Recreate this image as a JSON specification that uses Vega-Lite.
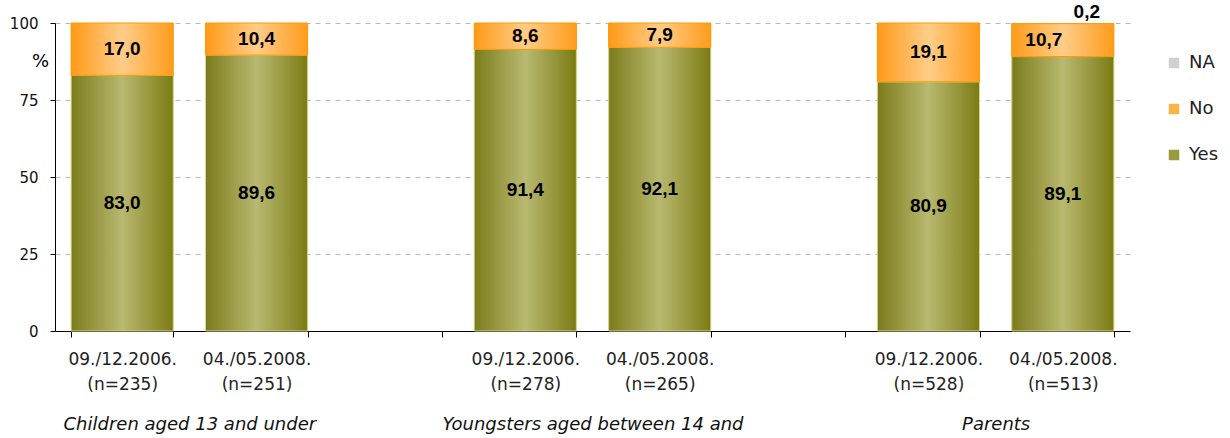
{
  "$schema": "https://vega.github.io/schema/vega-lite/v6.json",
  "width": 1075,
  "height": 308,
  "autosize": {"type": "none"},
  "padding": {"left": 55, "top": 23, "right": 100, "bottom": 107},
  "background": "white",
  "config": {
    "view": {"stroke": null},
    "font": "DejaVu Sans"
  },
  "datasets": {
    "bars": [
      {"slot": "09./12.2006.|(n=235)", "answer": "Yes", "value": 83.0, "label": "83,0"},
      {"slot": "09./12.2006.|(n=235)", "answer": "No", "value": 17.0, "label": "17,0"},
      {"slot": "04./05.2008.|(n=251)", "answer": "Yes", "value": 89.6, "label": "89,6"},
      {"slot": "04./05.2008.|(n=251)", "answer": "No", "value": 10.4, "label": "10,4"},
      {"slot": "09./12.2006.|(n=278)", "answer": "Yes", "value": 91.4, "label": "91,4"},
      {"slot": "09./12.2006.|(n=278)", "answer": "No", "value": 8.6, "label": "8,6"},
      {"slot": "04./05.2008.|(n=265)", "answer": "Yes", "value": 92.1, "label": "92,1"},
      {"slot": "04./05.2008.|(n=265)", "answer": "No", "value": 7.9, "label": "7,9"},
      {"slot": "09./12.2006.|(n=528)", "answer": "Yes", "value": 80.9, "label": "80,9"},
      {"slot": "09./12.2006.|(n=528)", "answer": "No", "value": 19.1, "label": "19,1"},
      {"slot": "04./05.2008.|(n=513)", "answer": "Yes", "value": 89.1, "label": "89,1"},
      {"slot": "04./05.2008.|(n=513)", "answer": "No", "value": 10.7, "label": "10,7"},
      {"slot": "04./05.2008.|(n=513)", "answer": "NA", "value": 0.2, "label": "0,2"}
    ],
    "groups": [
      {"group": "Children aged 13 and under"},
      {"group": "Youngsters aged between 14 and"},
      {"group": "Parents"}
    ]
  },
  "resolve": {"scale": {"x": "independent"}, "axis": {"x": "independent"}},
  "layer": [
    {
      "data": {"name": "bars"},
      "encoding": {
        "x": {
          "field": "slot",
          "type": "nominal",
          "sort": null,
          "scale": {
            "domain": ["09./12.2006.|(n=235)", "04./05.2008.|(n=251)", "gap1", "09./12.2006.|(n=278)", "04./05.2008.|(n=265)", "gap2", "09./12.2006.|(n=528)", "04./05.2008.|(n=513)"],
            "paddingInner": 0.24,
            "paddingOuter": 0.12
          },
          "axis": {
            "orient": "bottom",
            "title": null,
            "labelExpr": "(!isString(datum.label) || indexof(datum.label, 'gap') === 0) ? '' : split(datum.label, '|')",
            "labelAngle": 0,
            "labelFont": "DejaVu Sans",
            "labelFontSize": 17,
            "labelColor": "#222222",
            "labelLineHeight": 25,
            "labelPadding": 14,
            "tickBand": "extent",
            "tickSize": 6,
            "tickColor": "#000000",
            "domainColor": "#000000",
            "grid": false
          }
        },
        "y": {
          "field": "value",
          "type": "quantitative",
          "stack": "zero",
          "scale": {"domain": [0, 100], "nice": false},
          "axis": {
            "values": [0, 25, 50, 75, 100],
            "title": "%",
            "titleAngle": 0,
            "titleX": -15,
            "titleY": 38,
            "titleFontSize": 18,
            "titleFontWeight": "normal",
            "titleFont": "DejaVu Sans",
            "titleAlign": "center",
            "titleBaseline": "middle",
            "labelFont": "DejaVu Sans",
            "labelFontSize": 15,
            "labelColor": "#111111",
            "labelPadding": 12,
            "tickSize": 5,
            "tickColor": "#000000",
            "domainColor": "#000000",
            "grid": true,
            "gridColor": "#b8b8b8",
            "gridDash": [5, 5],
            "gridWidth": 1
          }
        },
        "order": {"field": "answer", "type": "nominal", "sort": "descending"},
        "detail": {"field": "answer", "type": "nominal"}
      },
      "layer": [
        {
          "mark": {"type": "bar"},
          "encoding": {
            "color": {
              "field": "answer",
              "type": "nominal",
              "scale": {"domain": ["NA", "No", "Yes"], "range": ["#d0d0d0", "#ffb347", "#9a9a3c"]},
              "legend": {
                "title": null,
                "orient": "none",
                "legendX": 1110,
                "legendY": 31,
                "padding": 0,
                "symbolType": "square",
                "symbolSize": 110,
                "symbolStrokeWidth": 0,
                "labelFont": "DejaVu Sans",
                "labelFontSize": 18,
                "labelColor": "#222222",
                "labelOffset": 6,
                "rowPadding": 28
              }
            }
          }
        },
        {
          "mark": {"type": "bar", "strokeWidth": 1, "stroke": "#d8d890",
            "fill": {"gradient": "linear", "x1": 0, "x2": 1, "y1": 0, "y2": 0,
              "stops": [{"offset": 0, "color": "#7b7b1c"}, {"offset": 0.5, "color": "#b9b970"}, {"offset": 1, "color": "#7b7b14"}]}},
          "encoding": {
            "opacity": {"condition": {"test": "datum.answer === 'Yes'", "value": 1}, "value": 0}
          }
        },
        {
          "mark": {"type": "bar", "strokeWidth": 1, "stroke": "#ff9900",
            "fill": {"gradient": "linear", "x1": 0, "x2": 1, "y1": 0, "y2": 0,
              "stops": [{"offset": 0, "color": "#ff9a18"}, {"offset": 0.5, "color": "#ffcd88"}, {"offset": 1, "color": "#ff9c1c"}]}},
          "encoding": {
            "opacity": {"condition": {"test": "datum.answer === 'No'", "value": 1}, "value": 0}
          }
        },
        {
          "mark": {"type": "text", "font": "Liberation Sans", "fontWeight": "bold", "fontSize": 19, "color": "#000000", "baseline": "middle"},
          "encoding": {
            "y": {"field": "value", "type": "quantitative", "stack": "zero", "bandPosition": 0.5},
            "text": {
              "condition": {"test": "datum.answer !== 'NA' && !(datum.slot === '04./05.2008.|(n=513)' && datum.answer === 'No')", "field": "label", "type": "nominal"},
              "value": ""
            }
          }
        },
        {
          "mark": {"type": "text", "font": "Liberation Sans", "fontWeight": "bold", "fontSize": 19, "color": "#000000", "baseline": "middle", "dx": -19},
          "encoding": {
            "y": {"field": "value", "type": "quantitative", "stack": "zero", "bandPosition": 0.5},
            "text": {
              "condition": {"test": "datum.slot === '04./05.2008.|(n=513)' && datum.answer === 'No'", "field": "label", "type": "nominal"},
              "value": ""
            }
          }
        },
        {
          "mark": {"type": "text", "font": "Liberation Sans", "fontWeight": "bold", "fontSize": 19, "color": "#000000", "baseline": "middle", "dx": 24, "dy": -11},
          "encoding": {
            "y": {"field": "value", "type": "quantitative", "stack": "zero", "bandPosition": 0.5},
            "text": {
              "condition": {"test": "datum.answer === 'NA'", "field": "label", "type": "nominal"},
              "value": ""
            }
          }
        }
      ]
    },
    {
      "data": {"name": "groups"},
      "mark": {"type": "point", "opacity": 0},
      "encoding": {
        "x": {
          "field": "group",
          "type": "nominal",
          "sort": null,
          "scale": {"type": "point", "padding": 0.3333},
          "axis": {
            "title": null,
            "orient": "bottom",
            "offset": 84,
            "labelAngle": 0,
            "labelFont": "DejaVu Sans",
            "labelFontSize": 18,
            "labelFontStyle": "italic",
            "labelColor": "#111111",
            "labelBaseline": "top",
            "labelLimit": 0,
            "labelOverlap": false,
            "ticks": false,
            "tickSize": 0,
            "domain": false,
            "labelPadding": 0,
            "grid": false
          }
        }
      }
    }
  ]
}
